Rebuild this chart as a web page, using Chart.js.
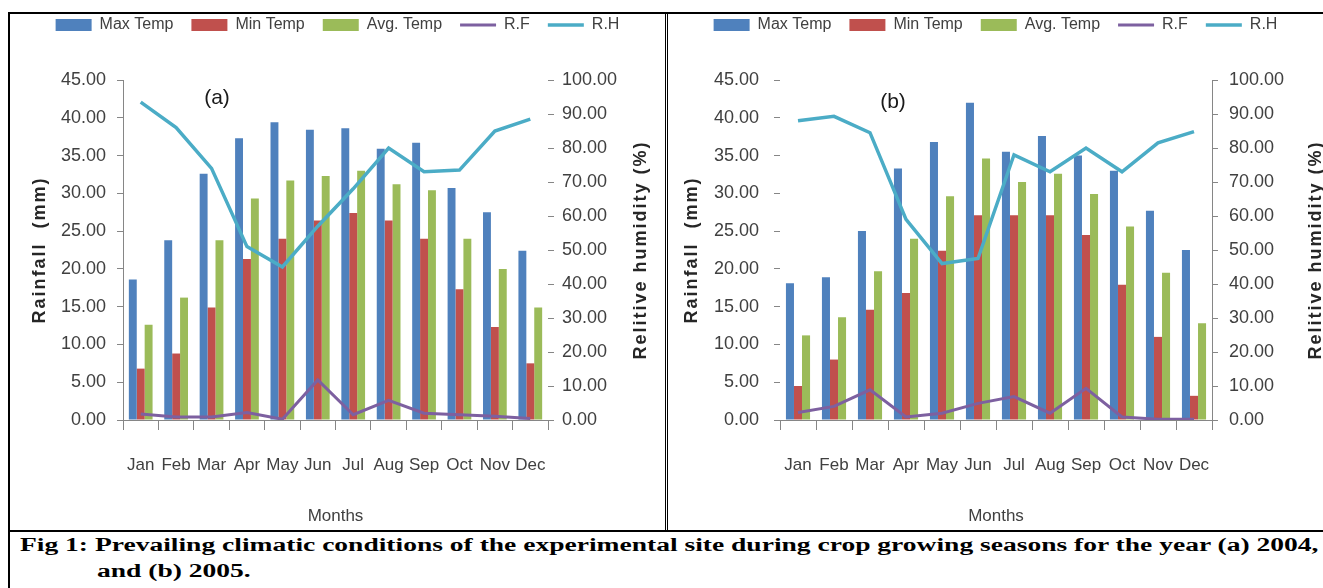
<!DOCTYPE html>
<html>
<head>
<meta charset="utf-8">
<script src="https://cdn.jsdelivr.net/npm/chart.js@4.4.1/dist/chart.umd.min.js"></script>
<style>
  body { margin: 0; background: #fff; width: 1323px; height: 588px; position: relative; overflow: hidden; }
  .rule { position: absolute; background: #000; }
  .cell { position: absolute; top: 14px; width: 655px; height: 516px; }
  .caption {
    position: absolute; white-space: nowrap; transform-origin: 0 0;
    font-family: 'Liberation Serif', 'Times New Roman', serif;
    font-weight: bold; font-size: 18px; line-height: 24px; color: #000;
  }
</style>
</head>
<body>

<!-- table rules -->
<div class="rule" style="left:8px;top:12px;width:1315px;height:2px"></div>
<div class="rule" style="left:8px;top:12px;width:2px;height:576px"></div>
<div class="rule" style="left:665px;top:12px;width:1px;height:519px"></div>
<div class="rule" style="left:667px;top:12px;width:1px;height:519px"></div>
<div class="rule" style="left:8px;top:530px;width:1315px;height:2px"></div>

<div class="cell" style="left:10px"><canvas id="chart2004" width="655" height="516"></canvas></div>
<div class="cell" style="left:668px"><canvas id="chart2005" width="655" height="516"></canvas></div>

<div id="cap1" class="caption" style="left:20px;top:533px">Fig 1: Prevailing climatic conditions of the experimental site during crop growing seasons for the year (a) 2004,</div>
<div id="cap2" class="caption" style="left:97px;top:559px">and (b) 2005.</div>

<script>
// ---------------------------------------------
// Data
// ---------------------------------------------
const months = ['Jan', 'Feb', 'Mar', 'Apr', 'May', 'Jun', 'Jul', 'Aug', 'Sep', 'Oct', 'Nov', 'Dec'];

const maxTemp2004 = [18.6, 23.8, 32.6, 37.3, 39.4, 38.4, 38.6, 35.9, 36.7, 30.7, 27.5, 22.4];
const minTemp2004 = [6.8, 8.8, 14.9, 21.3, 24.0, 26.4, 27.4, 26.4, 24.0, 17.3, 12.3, 7.5];
const avgTemp2004 = [12.6, 16.2, 23.8, 29.3, 31.7, 32.3, 33.0, 31.2, 30.4, 24.0, 20.0, 14.9];
const rainfall2004 = [0.8, 0.4, 0.4, 1.0, 0.1, 5.3, 0.7, 2.6, 0.9, 0.7, 0.5, 0.2];
const humidity2004 = [93.5, 86.0, 74.0, 51.0, 45.0, 57.0, 68.0, 80.0, 73.0, 73.5, 85.0, 88.5];

const maxTemp2005 = [18.1, 18.9, 25.0, 33.3, 36.8, 42.0, 35.5, 37.6, 35.0, 33.0, 27.7, 22.5];
const minTemp2005 = [4.5, 8.0, 14.6, 16.8, 22.4, 27.1, 27.1, 27.1, 24.5, 17.9, 11.0, 3.2];
const avgTemp2005 = [11.2, 13.6, 19.7, 24.0, 29.6, 34.6, 31.5, 32.6, 29.9, 25.6, 19.5, 12.8];
const rainfall2005 = [1.0, 1.8, 4.0, 0.4, 0.9, 2.2, 3.1, 0.9, 4.2, 0.4, 0.1, 0.1];
const humidity2005 = [88.0, 89.3, 84.5, 59.0, 46.0, 47.5, 78.0, 73.0, 80.0, 73.0, 81.5, 84.8];

const rainfallAxis = [0, 45, 5];     // min, max, step
const humidityAxis = [0, 100, 10];

const FONT = '"Liberation Sans", Arial, sans-serif';
const TEXT = '#404040';
const AXIS = '#868686';

Chart.defaults.font.family = FONT;
Chart.defaults.color = TEXT;

// panel tag and the two rotated axis titles (both read bottom to top)
const panelText = {
  id: 'panelText',
  afterDraw(chart, args, opts) {
    const { ctx, chartArea } = chart;
    ctx.save();
    ctx.fillStyle = '#1a1a1a';
    ctx.textAlign = 'center';
    ctx.textBaseline = 'middle';
    ctx.font = '21px ' + FONT;
    ctx.fillText(opts.tag, chartArea.left + opts.tagX, chartArea.top + opts.tagY);

    ctx.fillStyle = '#262626';
    ctx.font = 'bold 18px ' + FONT;
    ctx.letterSpacing = '2px';
    const midY = (chartArea.top + chartArea.bottom) / 2;
    [[opts.leftTitle, opts.leftX], [opts.rightTitle, opts.rightX]].forEach(([text, x]) => {
      ctx.save();
      ctx.translate(x, midY);
      ctx.rotate(-Math.PI / 2);
      ctx.fillText(text, 0, 0);
      ctx.restore();
    });
    ctx.restore();
  },
};

function lineSet(label, data, color, width, axis, order) {
  return {
    type: 'line',
    label,
    data,
    yAxisID: axis,
    order,
    borderColor: color,
    backgroundColor: color,
    borderWidth: width,
    pointBorderColor: color,
    pointBorderWidth: width,
    pointRadius: 0,
    pointHoverRadius: 0,
    pointStyle: 'line',
    tension: 0,
  };
}

function barSet(label, data, color) {
  return {
    label,
    data,
    yAxisID: 'y',
    order: 2,
    backgroundColor: color,
    borderWidth: 0,
    pointStyle: 'rect',
    categoryPercentage: 0.67,
    barPercentage: 1.0,
  };
}

function axisTicks(size, padding) {
  return { color: TEXT, font: { size }, padding };
}

/**
 * One panel of the figure
 */
function createClimateChart(canvasId, series, panel) {
  const ctx = document.getElementById(canvasId).getContext('2d');

  return new Chart(ctx, {
    type: 'bar',
    data: {
      labels: months,
      datasets: [
        barSet('Max Temp', series.maxTemp, '#4F81BD'),
        barSet('Min Temp', series.minTemp, '#C0504D'),
        barSet('Avg. Temp', series.avgTemp, '#9BBB59'),
        lineSet('R.F', series.rainfall, '#7D60A0', 3, 'y', 1),
        lineSet('R.H', series.humidity, '#4BACC6', 3.5, 'y1', 0),
      ],
    },
    plugins: [panelText],
    options: {
      responsive: false,
      animation: false,
      events: [],
      layout: { padding: { top: -15, left: 0, right: 0, bottom: 0 } },
      plugins: {
        tooltip: { enabled: false },
        legend: {
          position: 'top',
          align: 'center',
          labels: {
            usePointStyle: true,
            pointStyleWidth: 36,
            boxHeight: 12,
            padding: 18,
            color: TEXT,
            font: { size: 16 },
            sort: (a, b) => a.datasetIndex - b.datasetIndex,
          },
        },
        // blank spacer between legend and plot
        title: {
          display: true,
          text: '',
          weight: 500,
          font: { size: 10, lineHeight: 1 },
          padding: { top: 27, bottom: 0 },
        },
        panelText: panel.text,
      },
      scales: {
        x: {
          grid: { drawOnChartArea: false, tickLength: 10, color: AXIS, offset: true },
          border: { display: true, color: AXIS },
          ticks: { ...axisTicks(17, 25), autoSkip: false, maxRotation: 0 },
          title: {
            display: true,
            text: 'Months',
            color: TEXT,
            font: { size: 17 },
            padding: { top: 0, bottom: 3 },
          },
          afterFit(scale) { scale.height = 110; },
        },
        y: {
          position: 'left',
          min: rainfallAxis[0],
          max: rainfallAxis[1],
          ticks: { ...axisTicks(18, panel.leftPad), stepSize: rainfallAxis[2], callback: v => v.toFixed(2) },
          grid: { drawOnChartArea: false, tickLength: 6, color: AXIS },
          border: { display: panel.leftLine, color: AXIS },
          afterFit(scale) { scale.width = panel.leftWidth; },
        },
        y1: {
          position: 'right',
          min: humidityAxis[0],
          max: humidityAxis[1],
          ticks: { ...axisTicks(18, panel.rightPad), stepSize: humidityAxis[2], callback: v => v.toFixed(2) },
          grid: { drawOnChartArea: false, tickLength: 6, color: AXIS },
          border: { display: panel.rightLine, color: AXIS },
          afterFit(scale) { scale.width = panel.rightWidth; },
        },
      },
    },
  });
}

createClimateChart('chart2004', {
  maxTemp: maxTemp2004,
  minTemp: minTemp2004,
  avgTemp: avgTemp2004,
  rainfall: rainfall2004,
  humidity: humidity2004,
}, {
  leftWidth: 113, rightWidth: 117, leftPad: 11, rightPad: 8,
  leftLine: true, rightLine: false,
  text: {
    tag: '(a)', tagX: 94, tagY: 18,
    leftTitle: 'Rainfall  (mm)', leftX: 30,
    rightTitle: 'Relitive humidity (%)', rightX: 631,
  },
});

createClimateChart('chart2005', {
  maxTemp: maxTemp2005,
  minTemp: minTemp2005,
  avgTemp: avgTemp2005,
  rainfall: rainfall2005,
  humidity: humidity2005,
}, {
  leftWidth: 112, rightWidth: 111, leftPad: 15, rightPad: 11,
  leftLine: false, rightLine: true,
  text: {
    tag: '(b)', tagX: 113, tagY: 22,
    leftTitle: 'Rainfall  (mm)', leftX: 24,
    rightTitle: 'Relitive humidity (%)', rightX: 648,
  },
});

// caption is set in a slightly stretched serif, like the scanned figure
const cap1 = document.getElementById('cap1');
const cap2 = document.getElementById('cap2');
const stretch = 1298 / cap1.scrollWidth;
cap1.style.transform = 'scaleX(' + stretch + ')';
cap2.style.transform = 'scaleX(' + stretch + ')';
</script>
</body>
</html>
